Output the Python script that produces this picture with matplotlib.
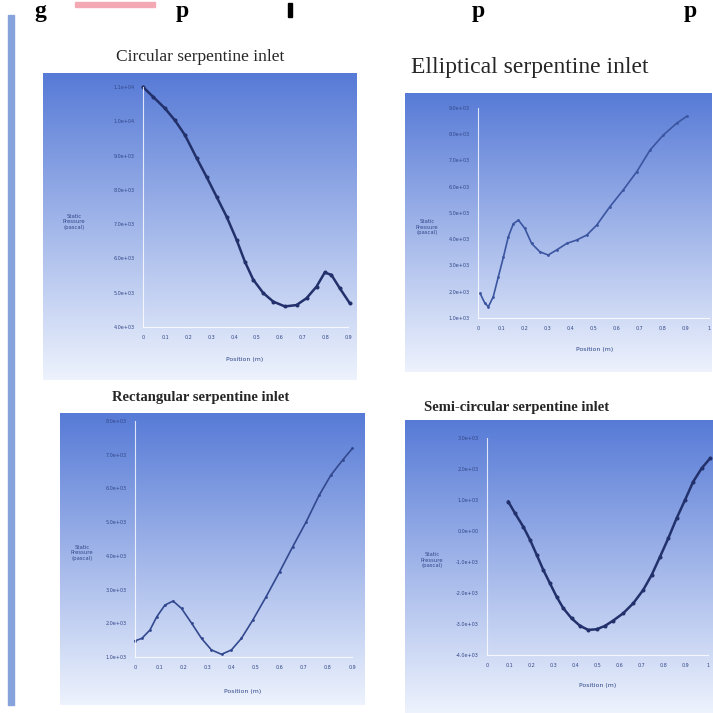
import numpy as np
import matplotlib.pyplot as plt
from matplotlib.patches import Rectangle

# Circular serpentine inlet
circ_x = [0, 0.045, 0.096, 0.140, 0.184, 0.236, 0.279, 0.323, 0.367, 0.411, 0.447,
          0.484, 0.528, 0.572, 0.623, 0.674, 0.718, 0.762, 0.798, 0.827, 0.864, 0.908]
circ_p = [11000, 10710, 10380, 10030, 9600, 8920, 8380, 7800, 7220, 6540, 5910,
          5380, 4990, 4740, 4600, 4640, 4840, 5180, 5590, 5520, 5130, 4690]
circ_xt = [0, 0.1, 0.2, 0.3, 0.4, 0.5, 0.6, 0.7, 0.8, 0.9]
circ_yt = [4000, 5000, 6000, 7000, 8000, 9000, 10000, 11000]

# Elliptical serpentine inlet
ell_x = [0.009, 0.030, 0.045, 0.066, 0.088, 0.110, 0.131, 0.153, 0.175, 0.203, 0.232, 0.268,
         0.304, 0.340, 0.384, 0.427, 0.471, 0.514, 0.571, 0.629, 0.687, 0.745, 0.802, 0.860, 0.903]
ell_p = [1940, 1560, 1430, 1810, 2570, 3320, 4090, 4590, 4730, 4410, 3840, 3520,
         3400, 3590, 3840, 3970, 4160, 4540, 5240, 5880, 6570, 7400, 7970, 8420, 8680]
ell_xt = [0, 0.1, 0.2, 0.3, 0.4, 0.5, 0.6, 0.7, 0.8, 0.9, 1.0]
ell_yt = [1000, 2000, 3000, 4000, 5000, 6000, 7000, 8000, 9000]

# Rectangular serpentine inlet
rect_x = [0, 0.028, 0.062, 0.090, 0.124, 0.158, 0.193, 0.235, 0.276, 0.317, 0.359,
          0.400, 0.441, 0.489, 0.544, 0.600, 0.654, 0.710, 0.764, 0.812, 0.861, 0.902]
rect_p = [1480, 1550, 1800, 2190, 2540, 2660, 2440, 2000, 1550, 1210, 1080,
          1210, 1550, 2100, 2790, 3530, 4270, 5010, 5800, 6390, 6840, 7190]
rect_xt = [0, 0.1, 0.2, 0.3, 0.4, 0.5, 0.6, 0.7, 0.8, 0.9]
rect_yt = [1000, 2000, 3000, 4000, 5000, 6000, 7000, 8000]

# Semi-circular serpentine inlet
semi_x = [0.096, 0.127, 0.164, 0.195, 0.225, 0.255, 0.285, 0.315, 0.345, 0.383, 0.421, 0.458, 0.496,
          0.534, 0.571, 0.617, 0.662, 0.707, 0.745, 0.783, 0.820, 0.858, 0.896, 0.933, 0.971, 1.009]
semi_p = [950, 570, 140, -290, -770, -1260, -1690, -2120, -2490, -2820, -3060, -3190, -3170,
          -3060, -2890, -2650, -2330, -1900, -1420, -830, -240, 410, 1000, 1590, 2020, 2340]
semi_xt = [0, 0.1, 0.2, 0.3, 0.4, 0.5, 0.6, 0.7, 0.8, 0.9, 1.0]
semi_yt = [-4000, -3000, -2000, -1000, 0, 1000, 2000, 3000]

W = H = 713
fig = plt.figure(figsize=(7.13, 7.13), dpi=100)
fig.patch.set_facecolor('white')

def rect(x0, y0, x1, y1):
    # pixel box (top-left origin) -> figure fraction
    return [x0 / W, 1 - y1 / H, (x1 - x0) / W, (y1 - y0) / H]

top_c = np.array([0.34, 0.48, 0.84])
bot_c = np.array([0.93, 0.95, 0.99])
grad = np.linspace(0, 1, 256)[:, None, None] * (bot_c - top_c) + top_c
navy = '#22316b'

def panel(bg, ax_box, xs, ys, xt, yt, title, tpos, tsize, tbold, ylab_pos, xlab_pos,
          color, ms, lw):
    bax = fig.add_axes(rect(*bg))
    bax.imshow(grad, aspect='auto', extent=[0, 1, 0, 1])
    bax.axis('off')
    ax = fig.add_axes(rect(*ax_box))
    ax.set_facecolor('none')
    ax.plot(xs, ys, color=color, lw=lw, marker='o', ms=ms, clip_on=False)
    ax.set_xlim(xt[0], xt[-1])
    ax.set_ylim(yt[0], yt[-1])
    ax.set_xticks(xt)
    ax.set_xticklabels([f'{v:g}' for v in xt])
    ax.set_yticks(yt)
    ax.set_yticklabels([f'{v:.1e}' for v in yt])
    ax.tick_params(length=0, labelsize=3.5, labelcolor='#33488a', pad=6)
    for s in ['top', 'right']:
        ax.spines[s].set_visible(False)
    for s in ['left', 'bottom']:
        ax.spines[s].set_color('white')
        ax.spines[s].set_alpha(0.8)
        ax.spines[s].set_linewidth(0.8)
    fig.text(tpos[0] / W, 1 - tpos[1] / H, title, ha='center', va='center',
             family='Liberation Serif', fontsize=tsize,
             fontweight='bold' if tbold else 'normal', color='#262626')
    fig.text(ylab_pos[0] / W, 1 - ylab_pos[1] / H, 'Static\nPressure\n(pascal)',
             ha='center', va='center', fontsize=3.8, color='#33488a', linespacing=1.1)
    fig.text(xlab_pos[0] / W, 1 - xlab_pos[1] / H, 'Position (m)',
             ha='center', va='center', fontsize=4.5, color='#33488a')

panel((43, 73, 357, 380), (143, 87, 348, 327), circ_x, circ_p, circ_xt, circ_yt,
      'Circular serpentine inlet', (200, 57), 12.5, False, (74, 222), (245, 360),
      navy, 1.9, 1.8)
panel((405, 93, 712, 372), (478, 108, 709, 318), ell_x, ell_p, ell_xt, ell_yt,
      'Elliptical serpentine inlet', (530, 67), 17, False, (427, 227), (595, 350),
      '#3b55a0', 1.0, 1.2)
panel((60, 413, 365, 705), (135, 421, 352, 657), rect_x, rect_p, rect_xt, rect_yt,
      'Rectangular serpentine inlet', (201, 397), 10.5, True, (82, 553), (243, 692),
      '#33498f', 1.0, 1.2)
panel((405, 420, 713, 713), (487, 438, 708, 655), semi_x, semi_p, semi_xt, semi_yt,
      'Semi-circular serpentine inlet', (517, 408), 10.5, True, (432, 560), (598, 685),
      navy, 1.9, 1.8)

# left accent bar and header remnants
fig.patches.append(Rectangle((8 / W, 1 - 705 / H), 6 / W, 690 / H,
                             transform=fig.transFigure, color='#86a3dc'))
fig.patches.append(Rectangle((75 / W, 1 - 7 / H), 80 / W, 5 / H,
                             transform=fig.transFigure, color='#f3a9b3'))
fig.patches.append(Rectangle((288 / W, 1 - 17 / H), 4 / W, 14 / H,
                             transform=fig.transFigure, color='black'))
for gx, ch in [(40, 'g'), (182, 'p'), (478, 'p'), (690, 'p')]:
    fig.text(gx / W, 1 - 1 / H, ch, ha='center', va='top', family='Liberation Serif',
             fontsize=17, fontweight='bold')

fig.savefig('out.png', dpi=100)
